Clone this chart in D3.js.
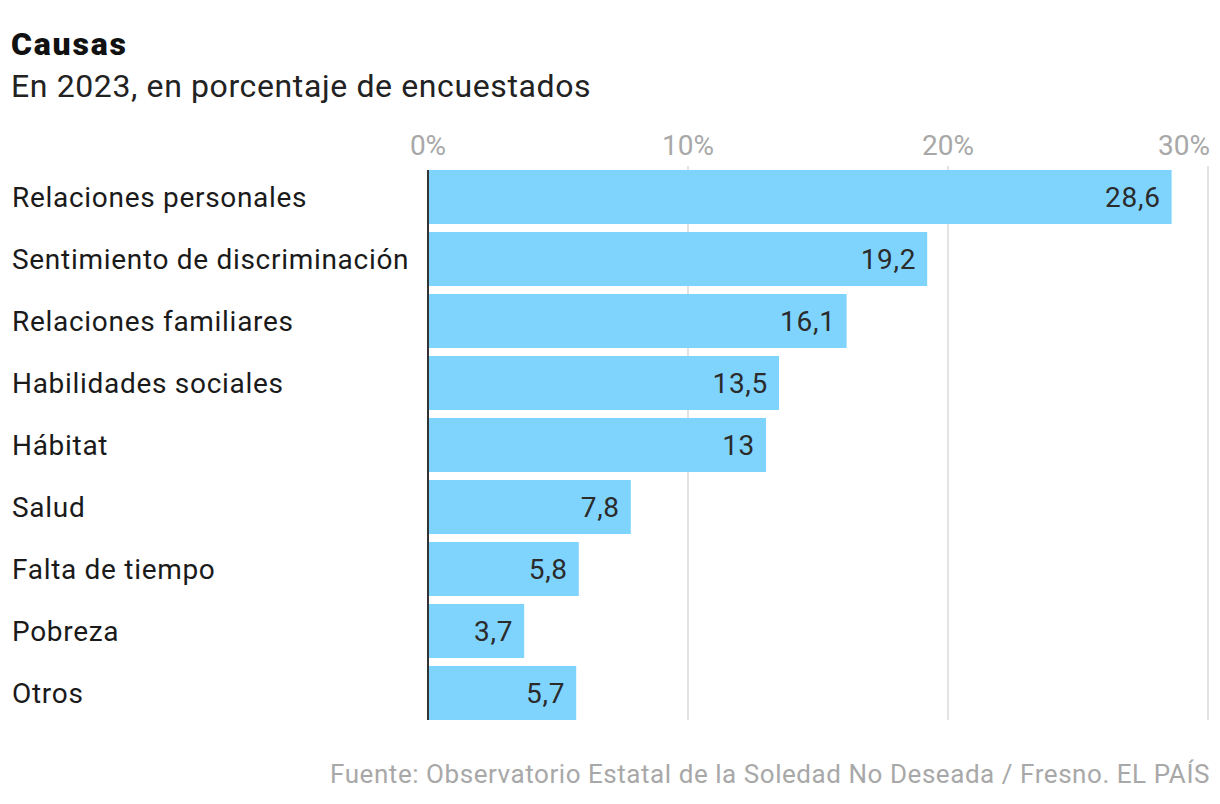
<!DOCTYPE html>
<html><head><meta charset="utf-8">
<script src="https://cdn.jsdelivr.net/npm/d3@7"></script>
<style>
body{margin:0;background:#fff;}
text{font-family:"Roboto","Liberation Sans",sans-serif;}
</style></head>
<body><svg id="c" width="1220" height="804"></svg>
<script>
const categories = ["Relaciones personales","Sentimiento de discriminación","Relaciones familiares","Habilidades sociales","Hábitat","Salud","Falta de tiempo","Pobreza","Otros"];
const values = [28.6,19.2,16.1,13.5,13,7.8,5.8,3.7,5.7];
const ticks = [0,10,20,30];

const svg = d3.select("#c");
const x = d3.scaleLinear().domain([0,30]).range([428,1208]);
const y = d3.scaleBand().domain(categories).range([170,720]).paddingInner(8/62).paddingOuter(0);

svg.append("text").attr("x",11).attr("y",55).attr("font-size",32).attr("font-weight","900").attr("letter-spacing",1.8).attr("fill","#111").text("Causas");
svg.append("text").attr("x",11).attr("y",97).attr("font-size",32).attr("letter-spacing",0.62).attr("fill","#222").text("En 2023, en porcentaje de encuestados");

svg.append("g").selectAll("line").data(ticks.slice(1)).join("line")
  .attr("x1",d=>x(d)).attr("x2",d=>x(d)).attr("y1",166).attr("y2",720)
  .attr("stroke","#e3e3e3").attr("stroke-width",2);

svg.append("g").selectAll("text").data(ticks).join("text")
  .attr("x",d=>x(d)).attr("y",155).attr("text-anchor",(d,i)=>i===ticks.length-1?"end":"middle")
  .attr("dx",(d,i)=>i===ticks.length-1?2:0)
  .attr("font-size",28).attr("fill","#a8a8a8").text(d=>d+"%");

svg.append("g").selectAll("rect").data(values).join("rect")
  .attr("x",x(0)).attr("y",(d,i)=>y(categories[i])).attr("width",d=>x(d)-x(0)).attr("height",y.bandwidth())
  .attr("fill","#7fd4fe");

svg.append("line").attr("x1",x(0)).attr("x2",x(0)).attr("y1",170).attr("y2",720).attr("stroke","#333").attr("stroke-width",2);

svg.append("g").selectAll("text").data(values).join("text")
  .attr("x",d=>x(d)-11).attr("y",(d,i)=>y(categories[i])+y.bandwidth()/2+10).attr("text-anchor","end")
  .attr("font-size",28).attr("letter-spacing",0.7).attr("fill","#2b2b2b").text(d=>String(d).replace(".",","));

svg.append("g").selectAll("text").data(categories).join("text")
  .attr("x",12).attr("y",d=>y(d)+y.bandwidth()/2+10).attr("font-size",28).attr("letter-spacing",0.7).attr("fill","#1a1a1a").text(d=>d);

svg.append("text").attr("x",1210).attr("y",783).attr("text-anchor","end").attr("font-size",26).attr("letter-spacing",0.55).attr("fill","#a8a8a8")
  .text("Fuente: Observatorio Estatal de la Soledad No Deseada / Fresno. EL PAÍS");
</script></body></html>
